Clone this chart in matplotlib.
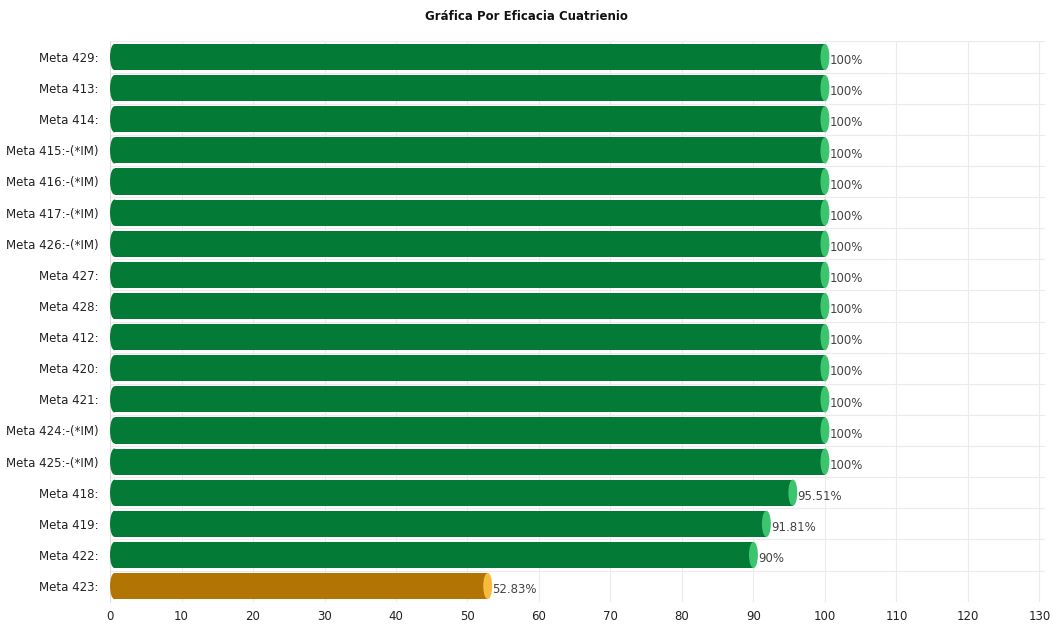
import matplotlib
matplotlib.use("Agg")
import matplotlib.pyplot as plt
from matplotlib.patches import Ellipse, Rectangle
import numpy as np

labels = ["Meta 429:", "Meta 413:", "Meta 414:", "Meta 415:-(*IM)", "Meta 416:-(*IM)",
          "Meta 417:-(*IM)", "Meta 426:-(*IM)", "Meta 427:", "Meta 428:", "Meta 412:",
          "Meta 420:", "Meta 421:", "Meta 424:-(*IM)", "Meta 425:-(*IM)", "Meta 418:",
          "Meta 419:", "Meta 422:", "Meta 423:"]
values = [100, 100, 100, 100, 100, 100, 100, 100, 100, 100, 100, 100, 100, 100,
          95.51, 91.81, 90, 52.83]
value_text = ["100%"] * 14 + ["95.51%", "91.81%", "90%", "52.83%"]
ticks = list(range(0, 140, 10))

GREEN, GREEN_CAP = "#037a35", "#3dc46f"
ORANGE, ORANGE_CAP = "#b27503", "#f6bb3c"

fig = plt.figure(figsize=(10.53, 6.28), dpi=100)
ax = fig.add_axes([0.1045, 0.042, 0.888, 0.892])

n = len(labels)
h = 0.84
cap_w = 1.25
for i, (v, txt) in enumerate(zip(values, value_text)):
    y = i
    body, cap = (ORANGE, ORANGE_CAP) if v < 60 else (GREEN, GREEN_CAP)
    ax.add_patch(Ellipse((cap_w / 2, y), cap_w, h, color=body, zorder=3, lw=0))
    ax.add_patch(Rectangle((cap_w / 2, y - h / 2), v - cap_w / 2, h, color=body, zorder=3, lw=0))
    ax.add_patch(Ellipse((v, y), cap_w, h, color=cap, zorder=4, lw=0))
    ax.text(v + cap_w / 2 + 0.05, y + 0.12, txt, va="center", ha="left",
            fontsize=8.5, color="#444444", zorder=5)

ax.set_xlim(0, 130.8)
ax.set_ylim(n - 0.5, -0.5)
ax.set_yticks(range(n))
ax.set_yticklabels(labels, fontsize=8.5, color="#222222")
ax.set_xticks(ticks)
ax.set_xticklabels([str(t) for t in ticks], fontsize=8.5, color="#222222")
ax.tick_params(length=0, pad=6)
ax.tick_params(axis="y", pad=8)

for t in ticks:
    ax.axvline(t, color="#ebebeb", lw=0.8, zorder=1)
for b in np.arange(-0.5, n, 1.0):
    ax.axhline(b, color="#ebebeb", lw=0.8, zorder=1)

for s in ax.spines.values():
    s.set_visible(False)
ax.spines["left"].set_visible(True)
ax.spines["left"].set_color("#dddddd")

fig.text(0.5, 0.973, "Gráfica Por Eficacia Cuatrienio", ha="center", va="center",
         fontsize=8.5, fontweight="bold", color="#111111")

fig.savefig("out.png", dpi=100)
